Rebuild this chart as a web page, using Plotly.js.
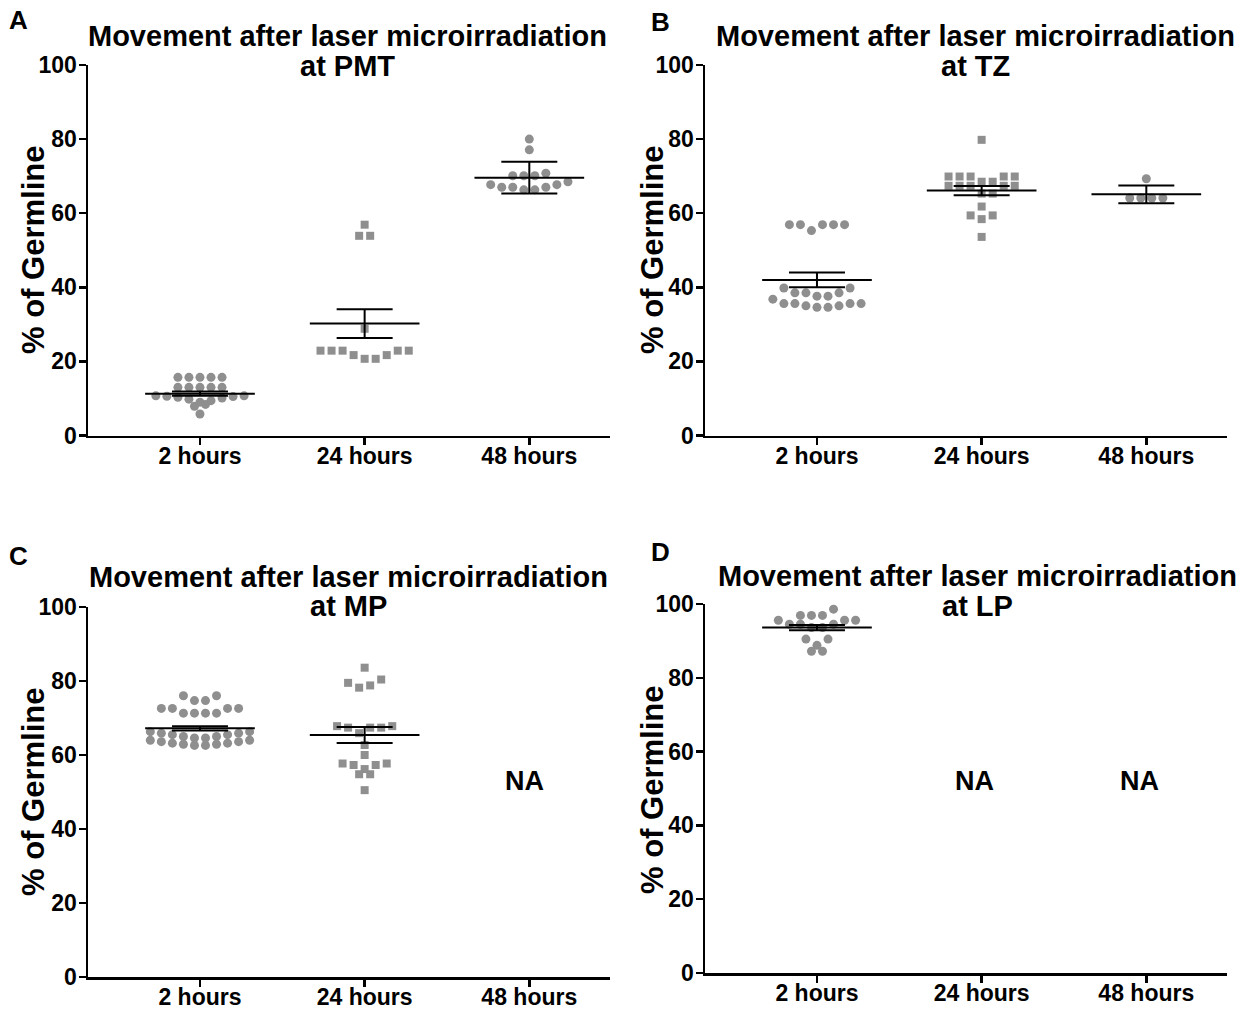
<!DOCTYPE html>
<html>
<head>
<meta charset="utf-8">
<script src="https://cdn.plot.ly/plotly-3.0.1.min.js"></script>
<style>html,body{margin:0;padding:0;background:#fff;}#chart{width:1258px;height:1010px;}</style>
</head>
<body>
<div id="chart"></div>
<script>
// ---------------- DATA ----------------
const categories = ["2 hours", "24 hours", "48 hours"];
const panelTitles = ["at PMT", "at TZ", "at MP", "at LP"];
const titleLine = "Movement after laser microirradiation";
const panelLetters = ["A", "B", "C", "D"];
const yTicks = [0, 20, 40, 60, 80, 100];

// Panel A: PMT
const pmt_2h = [15.7,15.7,15.7,15.7,15.7, 13.0,13.0,13.0,13.0,13.0, 10.7,10.7,10.6,10.5,10.3,10.1,9.8,9.4,9.0, 8.4,7.9, 5.8];
const pmt_24h = [56.9, 53.9,53.9, 28.8, 22.9,22.9,22.9,22.9,22.9, 21.7,21.7, 20.7,20.7];
const pmt_48h = [80.0, 77.1, 70.8, 70.1,70.1,70.1, 68.5, 67.7,67.7, 67.0,67.0,67.0, 66.3,66.3];
const pmt_mean = [11.3, 30.2, 69.6];
const pmt_err = [0.6, 3.9, 4.3];

// Panel B: TZ
const tz_2h = [56.9,56.9,56.9,56.9,56.9, 55.3, 39.8,39.8, 38.5,38.5,38.5, 37.6,37.6, 36.8, 35.6,35.6,35.6,35.6, 35.0,35.0, 34.6,34.6];
const tz_24h = [79.8, 69.9,69.9,69.9,69.9,69.9, 68.5,68.5, 67.4,67.4,67.4,67.4,67.4, 65.3,65.3, 61.8, 59.4,59.4, 58.4, 53.6];
const tz_48h = [69.3, 64.1,64.1,64.1,64.1];
const tz_mean = [42.0, 66.1, 65.1];
const tz_err = [2.0, 1.25, 2.4];

// Panel C: MP (48 hours: NA)
const mp_2h = [76.0,76.0, 74.7,74.7, 72.6,72.6,72.6,72.6, 71.3,71.3,71.3,71.3,
               66.3,66.3, 65.9,65.9, 65.5,65.5, 65.0,65.0, 64.6,64.6,
               64.0,64.0, 63.6,63.6, 63.2,63.2, 62.9,62.9, 62.6,62.6];
const mp_24h = [83.6, 80.4, 79.5, 78.8, 78.2, 67.8,67.8, 67.4,67.4,67.4, 65.9, 62.7, 60.0, 57.7,57.7, 57.3,57.3, 56.2, 54.8,54.8, 50.5];
const mp_mean = [67.2, 65.4];
const mp_err = [0.6, 2.15];
const mp_na = [2];      // category index with no data
const mp_na_y = [53];

// Panel D: LP (24 and 48 hours: NA)
const lp_2h = [98.6, 96.9,96.9,96.9, 95.6,95.6,95.6, 94.5,94.5,94.5, 93.6,93.6, 90.5,90.5, 88.8, 87.2,87.2];
const lp_mean = [93.6];
const lp_err = [0.7];
const lp_na = [1, 2];
const lp_na_y = [52, 52];

// ---------------- LAYOUT HELPERS ----------------
const W = 1258, H = 1010;
const px = x => x / W;
const py = y => 1 - y / H;
const FONT = "Liberation Sans, Arial, Helvetica, sans-serif";
const GREY = "#8f8f8f";
const STEP = 0.067;     // horizontal spacing between neighbouring dots (category units)
const ROWSPAN = 2.2;    // value span grouped into one row of the dot plot

// Arrange the dots of one group in rows (scatter dot plot, lowest value of a row in the middle)
function swarm(values, center) {
  const sorted = values.slice().sort((a, b) => b - a);
  const rows = []; let cur = [];
  sorted.forEach(v => {
    if (cur.length && cur[0] - v > ROWSPAN + 1e-6) { rows.push(cur); cur = []; }
    cur.push(v);
  });
  if (cur.length) rows.push(cur);
  const xs = [], ys = [];
  rows.forEach(r => {
    const asc = r.slice().sort((a, b) => a - b);
    const n = asc.length;
    asc.forEach((v, i) => {
      let p;
      if (n % 2) { const k = Math.ceil(i / 2); p = i === 0 ? 0 : (i % 2 ? k : -k); }
      else { const k = Math.floor(i / 2) + 0.5; p = (i % 2 === 0) ? -k : k; }
      xs.push(center + p * STEP); ys.push(v);
    });
  });
  return { xs, ys };
}

const traces = [];
function addGroup(values, catIndex, symbol, ax) {
  const s = swarm(values, catIndex);
  traces.push({
    type: "scatter", mode: "markers", x: s.xs, y: s.ys, xaxis: "x" + ax, yaxis: "y" + ax,
    marker: { color: GREY, size: symbol === "square" ? 8 : 9, symbol: symbol, line: { width: 0 } },
    hoverinfo: "y", showlegend: false, cliponaxis: false
  });
}
function addMeanErr(means, errs, ax) {
  const x = [], y = [];
  means.forEach((m, i) => {
    const e = errs[i];
    x.push(i - 0.333, i + 0.333, null, i - 0.17, i + 0.17, null, i - 0.17, i + 0.17, null, i, i, null);
    y.push(m, m, null, m + e, m + e, null, m - e, m - e, null, m - e, m + e, null);
  });
  traces.push({
    type: "scatter", mode: "lines", x: x, y: y, xaxis: "x" + ax, yaxis: "y" + ax,
    line: { color: "#000", width: 2 }, hoverinfo: "skip", showlegend: false, connectgaps: false
  });
}

// Panel A
addGroup(pmt_2h, 0, "circle", "");
addGroup(pmt_24h, 1, "square", "");
addGroup(pmt_48h, 2, "circle", "");
addMeanErr(pmt_mean, pmt_err, "");
// Panel B
addGroup(tz_2h, 0, "circle", "2");
addGroup(tz_24h, 1, "square", "2");
addGroup(tz_48h, 2, "circle", "2");
addMeanErr(tz_mean, tz_err, "2");
// Panel C
addGroup(mp_2h, 0, "circle", "3");
addGroup(mp_24h, 1, "square", "3");
addMeanErr(mp_mean, mp_err, "3");
// Panel D
addGroup(lp_2h, 0, "circle", "4");
addMeanErr(lp_mean, lp_err, "4");

const tickFont = { family: FONT, size: 23, color: "#000", weight: "bold" };
function xAxis(domain, anchor) {
  return {
    domain: domain, anchor: anchor, range: [-0.68, 2.49], tickvals: [0, 1, 2], ticktext: categories,
    showline: true, linecolor: "#000", linewidth: 2.5, ticks: "outside", ticklen: 7, tickwidth: 2.5,
    tickcolor: "#000", showgrid: false, zeroline: false, tickfont: tickFont, fixedrange: true,
    ticklabelstandoff: -9
  };
}
function yAxis(domain, anchor) {
  return {
    domain: domain, anchor: anchor, range: [0, 100], tickvals: yTicks, ticktext: yTicks.map(String),
    showline: true, linecolor: "#000", linewidth: 2.5, ticks: "outside", ticklen: 7, tickwidth: 2.5,
    tickcolor: "#000", showgrid: false, zeroline: false, tickfont: tickFont, fixedrange: true,
    ticklabelstandoff: -3
  };
}

const annotations = [];
function txt(text, x, y, size, extra) {
  annotations.push(Object.assign({
    text: text, x: x, y: y, xref: "paper", yref: "paper", showarrow: false,
    xanchor: "center", yanchor: "middle",
    font: { family: FONT, size: size, color: "#000", weight: "bold" }
  }, extra || {}));
}
// panel positions (pixels): title centre x, title line y's, letter pos, y-title pos
const panels = [
  { tx: 347, t1: 36, t2: 66, lx: 18, ly: 20, yx: 33, yy: 250 },
  { tx: 975, t1: 36, t2: 66, lx: 660, ly: 22, yx: 652, yy: 250 },
  { tx: 349, t1: 577, t2: 606, lx: 18, ly: 556, yx: 33, yy: 792 },
  { tx: 977, t1: 576, t2: 606, lx: 660, ly: 552, yx: 652, yy: 790 }
];
panels.forEach((p, i) => {
  txt(titleLine, px(p.tx), py(p.t1), 29);
  txt(panelTitles[i], px(p.tx), py(p.t2), 29);
  txt(panelLetters[i], px(p.lx), py(p.ly), 26);
  txt("% of Germline", px(p.yx), py(p.yy), 31, { textangle: -90 });
});
// NA labels
mp_na.forEach((c, i) => annotations.push({
  text: "NA", x: c, y: mp_na_y[i], xref: "x3", yref: "y3", showarrow: false, xshift: -5,
  font: { family: FONT, size: 27, color: "#000", weight: "bold" }
}));
lp_na.forEach((c, i) => annotations.push({
  text: "NA", x: c, y: lp_na_y[i], xref: "x4", yref: "y4", showarrow: false, xshift: -7,
  font: { family: FONT, size: 27, color: "#000", weight: "bold" }
}));

const layout = {
  width: W, height: H, margin: { l: 0, r: 0, t: 0, b: 0 },
  paper_bgcolor: "#fff", plot_bgcolor: "#fff", showlegend: false,
  font: { family: FONT, color: "#000" },
  xaxis: xAxis([px(88), px(610)], "y"),
  yaxis: yAxis([py(435.5), py(65)], "x"),
  xaxis2: xAxis([px(705), px(1227)], "y2"),
  yaxis2: yAxis([py(435.5), py(65)], "x2"),
  xaxis3: xAxis([px(88), px(610)], "y3"),
  yaxis3: yAxis([py(977), py(607)], "x3"),
  xaxis4: xAxis([px(705), px(1227)], "y4"),
  yaxis4: yAxis([py(973), py(604)], "x4"),
  annotations: annotations
};

Plotly.newPlot("chart", traces, layout, { displayModeBar: false, staticPlot: true });
</script>
</body>
</html>
